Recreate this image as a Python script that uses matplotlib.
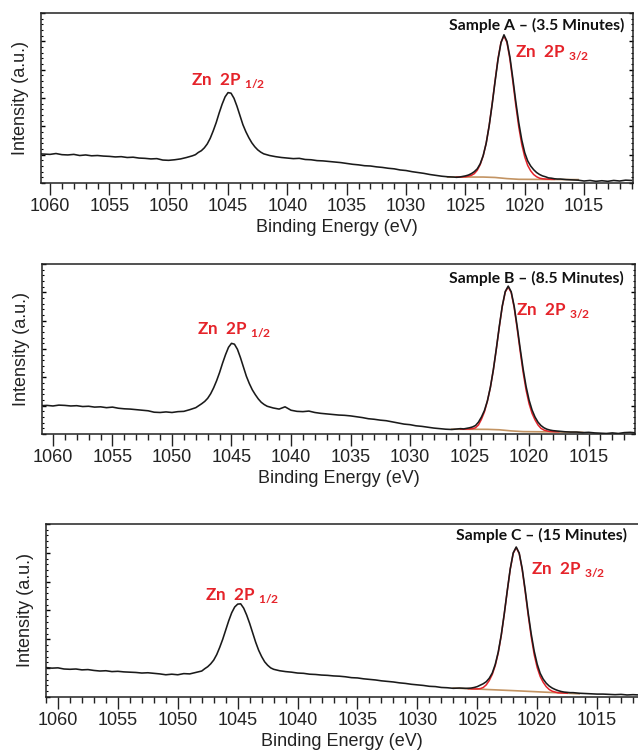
import numpy as np
import matplotlib.pyplot as plt
from matplotlib.ticker import MultipleLocator

plt.rcParams['font.family'] = ['Liberation Sans', 'DejaVu Sans']
plt.rcParams['mathtext.fontset'] = 'custom'
plt.rcParams['mathtext.bf'] = 'Lato:bold'
plt.rcParams['mathtext.rm'] = 'Lato:bold'

# binding energy grid (eV), finer steps around the two Zn 2p peaks
energy = np.concatenate([np.arange(1061.0, 1047.9, -0.5),
                         np.arange(1047.75, 1042.2, -0.25),
                         np.arange(1042.0, 1025.9, -0.5),
                         np.arange(1025.75, 1017.2, -0.25),
                         np.arange(1017.0, 1010.9, -0.5)])
fit_energy = np.arange(1025.75, 1017.4, -0.25)

# measured spectra (arbitrary units)
int_a = [1.03, 1.02, 1.01, 1.04, 1.00, 0.99, 1.01, 0.97, 0.99, 0.96, 0.97, 0.95, 0.94, 0.92,
         0.93, 0.90, 0.91, 0.88, 0.87, 0.85, 0.86, 0.81, 0.80, 0.82, 0.85, 0.90, 0.96,
         1.00, 1.08, 1.14, 1.24, 1.38, 1.58, 1.84, 2.13, 2.47, 2.78, 3.04, 3.19, 3.17, 2.99,
         2.71, 2.38, 2.06, 1.81, 1.60, 1.42, 1.28, 1.17, 1.09,
         1.03, 0.97, 0.93, 0.90, 0.88, 0.86, 0.87, 0.83, 0.82, 0.79, 0.78, 0.76, 0.74, 0.72,
         0.69, 0.66, 0.64, 0.61, 0.60, 0.57, 0.55, 0.52, 0.50, 0.46, 0.44, 0.40, 0.37, 0.34,
         0.30, 0.27, 0.24, 0.22, 0.21,
         0.20, 0.21, 0.23, 0.25, 0.28, 0.33, 0.40, 0.50, 0.68, 0.97, 1.40, 2.01, 2.76, 3.58,
         4.36, 4.95, 5.23, 5.00, 4.45, 3.68, 2.86, 2.12, 1.52, 1.07, 0.78, 0.60, 0.47, 0.37,
         0.30, 0.25, 0.22, 0.18, 0.17, 0.15, 0.14,
         0.14, 0.12, 0.11, 0.10, 0.07, 0.09, 0.06, 0.08, 0.06, 0.09, 0.07, 0.10, 0.09]
int_b = [1.00, 1.01, 0.99, 1.02, 1.01, 0.99, 1.00, 0.97, 0.98, 0.95, 0.96, 0.93, 0.95, 0.91,
         0.89, 0.88, 0.86, 0.84, 0.82, 0.77, 0.76, 0.78, 0.76, 0.79, 0.80, 0.86, 0.93,
         1.00, 1.07, 1.15, 1.26, 1.42, 1.63, 1.88, 2.17, 2.50, 2.80, 3.06, 3.20, 3.17, 2.99,
         2.70, 2.37, 2.04, 1.78, 1.56, 1.39, 1.24, 1.12, 1.04,
         0.98, 0.92, 0.88, 0.96, 0.84, 0.80, 0.79, 0.81, 0.76, 0.73, 0.71, 0.69, 0.67, 0.66,
         0.64, 0.61, 0.58, 0.54, 0.52, 0.49, 0.47, 0.43, 0.39, 0.35, 0.33, 0.29, 0.27, 0.24,
         0.21, 0.19, 0.17, 0.16, 0.18,
         0.19, 0.18, 0.20, 0.22, 0.25, 0.30, 0.42, 0.60, 0.83, 1.17, 1.65, 2.27, 3.01, 3.80,
         4.52, 5.03, 5.22, 5.02, 4.51, 3.80, 3.03, 2.30, 1.68, 1.20, 0.85, 0.60, 0.42, 0.30,
         0.22, 0.17, 0.14, 0.12, 0.11, 0.10, 0.09,
         0.08, 0.07, 0.07, 0.05, 0.06, 0.04, 0.03, 0.02, 0.04, 0.02, 0.05, 0.06, 0.04]
int_c = [1.02, 1.00, 1.01, 0.97, 0.96, 0.97, 0.94, 0.95, 0.92, 0.90, 0.91, 0.88, 0.89, 0.87,
         0.86, 0.85, 0.83, 0.84, 0.82, 0.80, 0.77, 0.79, 0.77, 0.81, 0.80, 0.85, 0.90,
         0.98, 1.05, 1.15, 1.28, 1.47, 1.72, 2.00, 2.32, 2.64, 2.92, 3.12, 3.22, 3.23, 3.08,
         2.84, 2.55, 2.22, 1.90, 1.62, 1.40, 1.22, 1.10, 1.01,
         0.96, 0.91, 0.88, 0.86, 0.83, 0.82, 0.79, 0.78, 0.76, 0.75, 0.73, 0.72, 0.70, 0.67,
         0.66, 0.63, 0.61, 0.59, 0.56, 0.54, 0.52, 0.49, 0.47, 0.44, 0.42, 0.40, 0.37, 0.36,
         0.33, 0.32, 0.30, 0.31, 0.30,
         0.30, 0.31, 0.33, 0.36, 0.41, 0.46, 0.53, 0.65, 0.83, 1.13, 1.56, 2.15, 2.88, 3.68,
         4.44, 5.00, 5.20, 4.99, 4.45, 3.71, 2.91, 2.19, 1.59, 1.14, 0.82, 0.62, 0.48, 0.38,
         0.31, 0.26, 0.22, 0.19, 0.17, 0.16, 0.15,
         0.15, 0.13, 0.12, 0.11, 0.10, 0.10, 0.09, 0.08, 0.09, 0.07, 0.08, 0.07, 0.08]

# fitted Zn 2p3/2 envelope
fit_a = [0.21, 0.21, 0.215, 0.22, 0.24, 0.27, 0.33, 0.45, 0.65, 0.96, 1.40, 2.02, 2.78, 3.61,
         4.40, 4.97, 5.19, 4.96, 4.37, 3.57, 2.73, 1.97, 1.36, 0.92, 0.62, 0.43, 0.30, 0.22,
         0.17, 0.15, 0.14, 0.135, 0.13, 0.13]
fit_b = [0.17, 0.17, 0.175, 0.18, 0.19, 0.22, 0.32, 0.52, 0.78, 1.16, 1.64, 2.26, 3.00, 3.78,
         4.50, 5.01, 5.19, 4.99, 4.46, 3.72, 2.93, 2.18, 1.55, 1.07, 0.73, 0.50, 0.32, 0.20,
         0.14, 0.11, 0.09, 0.085, 0.08, 0.08]
fit_c = [0.29, 0.28, 0.28, 0.28, 0.29, 0.33, 0.42, 0.57, 0.78, 1.09, 1.53, 2.13, 2.87, 3.67,
         4.43, 4.98, 5.18, 4.97, 4.41, 3.65, 2.83, 2.09, 1.47, 1.02, 0.71, 0.51, 0.36, 0.26,
         0.20, 0.17, 0.145, 0.14, 0.135, 0.13]

# background lines
bg_e_ab = [1026.5, 1023.5, 1022.5, 1021.5, 1020.5, 1018.0, 1015.5]
bg_a = [0.21, 0.21, 0.195, 0.155, 0.13, 0.125, 0.12]
bg_b = [0.17, 0.165, 0.15, 0.11, 0.085, 0.075, 0.06]
bg_e_c = [1027.0, 1022.0, 1016.5]
bg_c = [0.31, 0.22, 0.11]

samples = ['Sample A – (3.5 Minutes)', 'Sample B – (8.5 Minutes)', 'Sample C – (15 Minutes)']
spectra = [int_a, int_b, int_c]
fits = [fit_a, fit_b, fit_c]
bg_es = [bg_e_ab, bg_e_ab, bg_e_c]
bgs = [bg_a, bg_b, bg_c]

# layout (figure fractions) and limits per panel
positions = [[0.0643, 0.756, 0.928, 0.2267],
             [0.0658, 0.4213, 0.9295, 0.2267],
             [0.0721, 0.0707, 0.928, 0.2307]]
xlims = [(1060.76, 1010.87), (1060.92, 1011.1), (1061.0, 1011.58)]
sample_xy = [(0.985, 0.925), (0.981, 0.913), (0.981, 0.931)]
p32_xy = [(0.80, 0.765), (0.80, 0.725), (0.819, 0.735)]
p12_xy = [(0.253, 0.60), (0.261, 0.612), (0.269, 0.584)]

red = '#e5232a'
fig = plt.figure(figsize=(6.38, 7.5), dpi=100)
for i in range(3):
    ax = fig.add_axes(positions[i])
    ax.plot(bg_es[i], bgs[i], color='#c39463', lw=1.2, zorder=2)
    ax.plot(fit_energy, fits[i], color=red, lw=1.1, zorder=3)
    ax.plot(energy, spectra[i], color='#1a1a1a', lw=1.15, zorder=4)
    ax.set_xlim(*xlims[i])
    ax.set_ylim(0, 6)
    ax.xaxis.set_major_locator(MultipleLocator(5))
    ax.xaxis.set_minor_locator(MultipleLocator(1))
    ax.yaxis.set_major_locator(MultipleLocator(1))
    ax.yaxis.set_minor_locator(MultipleLocator(0.2))
    ax.tick_params(axis='x', which='major', direction='out', length=8.5, width=1.0,
                   labelsize=13, pad=2, colors='#222222')
    ax.tick_params(axis='x', which='minor', direction='out', length=4.5, width=1.0,
                   colors='#222222')
    ax.tick_params(axis='y', which='major', direction='in', length=3, width=1.0,
                   left=True, right=True, labelleft=False)
    ax.tick_params(axis='y', which='minor', direction='in', length=1.5, width=0.8,
                   left=True, right=True)
    for s in ax.spines.values():
        s.set_linewidth(1.1)
        s.set_color('#222222')
    if i == 2:
        ax.spines['right'].set_visible(False)
        ax.tick_params(axis='y', which='both', right=False)
    ax.set_xlabel('Binding Energy (eV)', fontsize=13, labelpad=3, color='#222222')
    ax.set_ylabel('Intensity (a.u.)', fontsize=13, labelpad=5, color='#222222')

    ax.text(*sample_xy[i], samples[i], transform=ax.transAxes, ha='right', va='center',
            family='Lato', weight='bold', fontsize=11.3, color='#111111')
    ax.text(*p32_xy[i], 'Zn  2P $_{\\mathbf{3/2}}$', transform=ax.transAxes, ha='left',
            va='center', family='Lato', weight='bold', fontsize=12.3, color=red)
    ax.text(*p12_xy[i], 'Zn  2P $_{\\mathbf{1/2}}$', transform=ax.transAxes, ha='left',
            va='center', family='Lato', weight='bold', fontsize=12.3, color=red)

plt.savefig('out.png', dpi=100)
